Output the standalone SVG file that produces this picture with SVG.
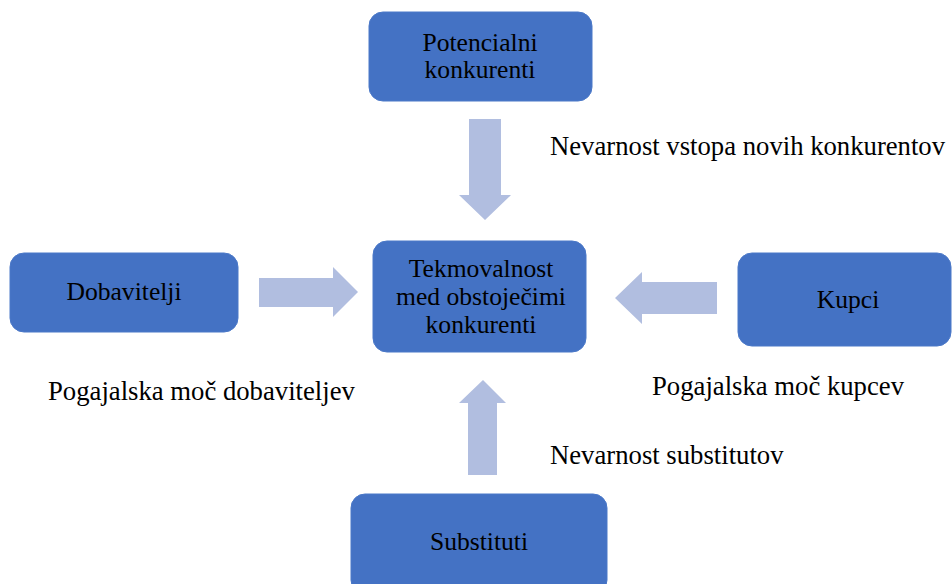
<svg xmlns="http://www.w3.org/2000/svg" width="952" height="584" viewBox="0 0 952 584">
<style>
.box{fill:#4472C4;stroke:#4A78C8;stroke-width:1}
.arr{fill:#B1BEE0}
.t{font-family:"Liberation Serif","Times New Roman",serif;font-size:25.6px;fill:#000}
.l{font-size:26.7px}
.c{text-anchor:middle}
</style>
<rect width="952" height="584" fill="#fff"/>
<g id="connectors">
<polygon class="arr" points="469,119 501,119 501,195 511,195 485,220 459,195 469,195"/>
<polygon class="arr" points="259,278 333,278 333,267 358,292 333,317 333,307 259,307"/>
<polygon class="arr" points="717,282 642,282 642,272 615,298 642,324 642,314 717,314"/>
<polygon class="arr" points="468,475 468,403 459,403 483,380 506,403 497,403 497,475"/>
</g>
<g id="potencialni">
<rect class="box" x="369" y="12" width="223" height="89" rx="14"/>
<text class="t c" x="480" y="51">Potencialni</text>
<text class="t c" x="480" y="78">konkurenti</text>
</g>
<g id="tekmovalnost">
<rect class="box" x="373" y="241" width="213" height="111" rx="14"/>
<text class="t c" x="481" y="277">Tekmovalnost</text>
<text class="t c" x="481" y="305">med obstoječimi</text>
<text class="t c" x="481" y="333">konkurenti</text>
</g>
<g id="dobavitelji">
<rect class="box" x="10" y="253" width="228" height="79" rx="14"/>
<text class="t c" x="124" y="300">Dobavitelji</text>
</g>
<g id="kupci">
<rect class="box" x="738" y="253" width="213" height="93" rx="14"/>
<text class="t c" x="848" y="308">Kupci</text>
</g>
<g id="substituti">
<rect class="box" x="351" y="494" width="256" height="100" rx="14"/>
<text class="t c" x="479" y="550">Substituti</text>
</g>
<g id="labels">
<text class="t l" x="550" y="155">Nevarnost vstopa novih konkurentov</text>
<text class="t l" x="48" y="400">Pogajalska moč dobaviteljev</text>
<text class="t l" x="652" y="395">Pogajalska moč kupcev</text>
<text class="t l" x="550" y="464">Nevarnost substitutov</text>
</g>
</svg>
